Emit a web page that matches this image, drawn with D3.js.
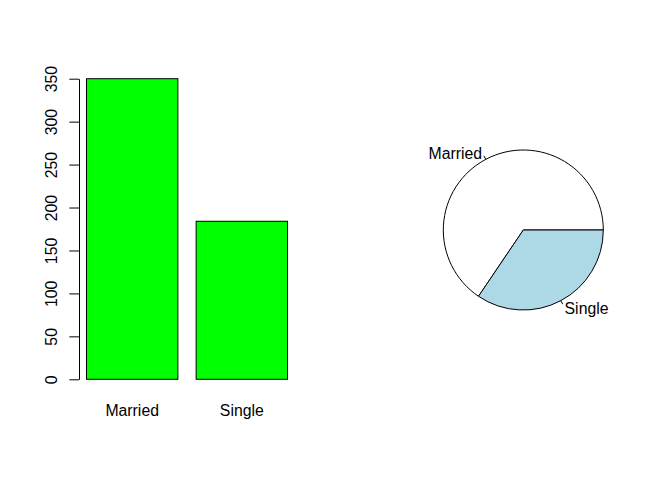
<!DOCTYPE html>
<html>
<head>
<meta charset="utf-8">
<script src="https://cdn.jsdelivr.net/npm/d3@7"></script>
<style>
  html, body { margin: 0; padding: 0; background: #fff; }
  svg { display: block; font-family: "Liberation Sans", Arial, sans-serif; }
</style>
</head>
<body>
<script>
const categories = ["Married", "Single"];
const counts = [350, 184];
const yTicks = [0, 50, 100, 150, 200, 250, 300, 350];
const barColor = "#00FF00";
const pieColors = ["#FFFFFF", "#ADD8E6"];

const W = 672, H = 480, FS = 15.8;
const svg = d3.select("body").append("svg").attr("width", W).attr("height", H);

// ---- Bar chart ----
const x = d3.scaleLinear().domain([0.2, 2.4]).range([86.5, 287.5]);
const y = d3.scaleLinear().domain([0, 350]).range([379.3, 78.7]);
const bars = categories.map((c, i) => ({ c, v: counts[i], x0: 0.2 + i * 1.2, x1: 1.2 + i * 1.2 }));

svg.append("g").selectAll("rect").data(bars).join("rect")
  .attr("x", d => x(d.x0))
  .attr("y", d => y(d.v))
  .attr("width", d => x(d.x1) - x(d.x0))
  .attr("height", d => y(0) - y(d.v))
  .attr("fill", barColor)
  .attr("stroke", "#000")
  .attr("stroke-width", 1);

svg.append("g").selectAll("text").data(bars).join("text")
  .attr("x", d => x((d.x0 + d.x1) / 2))
  .attr("y", 416)
  .attr("text-anchor", "middle")
  .attr("font-size", FS)
  .attr("fill", "#000")
  .text(d => d.c);

const yAxis = svg.append("g").attr("transform", "translate(79,0)")
  .call(d3.axisLeft(y).tickValues(yTicks).tickSize(9.7).tickSizeOuter(0).tickFormat(d3.format("d")));
yAxis.select(".domain").attr("stroke", "#000");
yAxis.selectAll(".tick line").attr("stroke", "#000");
yAxis.selectAll(".tick text")
  .attr("transform", "rotate(-90)")
  .attr("x", 0).attr("y", -22.3).attr("dy", null)
  .attr("text-anchor", "middle")
  .attr("font-size", FS)
  .attr("font-family", "'Liberation Sans', Arial, sans-serif")
  .attr("fill", "#000");

// ---- Pie chart ----
const cx = 523.3, cy = 230, r = 80;
const pie = d3.pie().sort(null).startAngle(Math.PI / 2).endAngle(Math.PI / 2 - 2 * Math.PI);
const arcs = pie(counts);
const arc = d3.arc().innerRadius(0).outerRadius(r);
const pg = svg.append("g").attr("transform", `translate(${cx},${cy})`);
pg.selectAll("path").data(arcs).join("path")
  .attr("d", arc)
  .attr("fill", (d, i) => pieColors[i])
  .attr("stroke", "#000")
  .attr("stroke-width", 1);

arcs.forEach((d, i) => {
  const a = (d.startAngle + d.endAngle) / 2;
  const sx = Math.sin(a), sy = -Math.cos(a);
  pg.append("line")
    .attr("x1", r * sx).attr("y1", r * sy)
    .attr("x2", 1.05 * r * sx).attr("y2", 1.05 * r * sy)
    .attr("stroke", "#000");
  pg.append("text")
    .attr("x", 1.1 * r * sx)
    .attr("y", 1.1 * r * sy + 6.3)
    .attr("text-anchor", sx < 0 ? "end" : "start")
    .attr("font-size", FS)
    .attr("fill", "#000")
    .text(categories[i]);
});
</script>
</body>
</html>
